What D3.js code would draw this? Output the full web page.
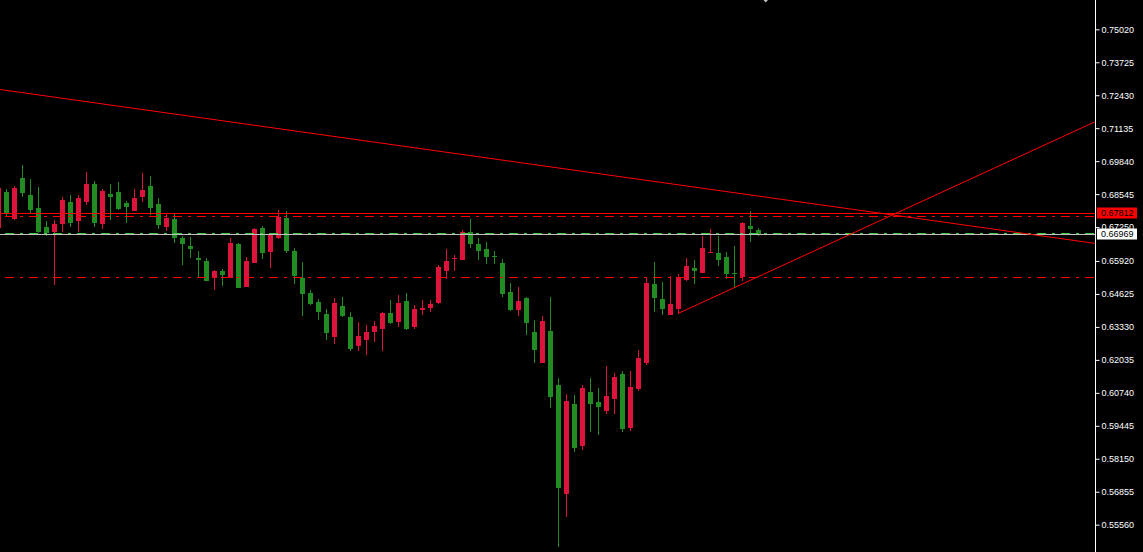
<!DOCTYPE html>
<html>
<head>
<meta charset="utf-8">
<script src="https://cdn.jsdelivr.net/npm/d3@7/dist/d3.min.js"></script>
<style>
html,body{margin:0;padding:0;background:#000;overflow:hidden;}
svg{display:block;}
</style>
</head>
<body>
<svg id="chart" width="1143" height="552"></svg>
<script>
// ---- data (bar index -1 .. 94) ----
const bars = d3.range(-1, 95);
const open = [0.67215,0.68629,0.67568,0.69179,0.68511,0.68000,0.67254,0.67058,0.67372,0.68236,0.67490,
0.68236,0.68943,0.67372,0.68550,0.68629,0.68197,0.67883,0.68432,0.68865,0.68158,
0.67254,0.67568,0.66822,0.66508,0.66036,0.65918,0.65251,0.65526,0.65251,0.66586,
0.64897,0.65840,0.67215,0.66272,0.66822,0.67608,0.66311,0.65251,0.64662,0.64308,
0.63836,0.62933,0.64151,0.63719,0.62580,0.62815,0.63129,0.63247,0.63876,0.63522,
0.64347,0.63326,0.63994,0.64072,0.64269,0.65526,0.65997,0.65958,0.67058,0.66586,
0.66390,0.66115,0.65840,0.64701,0.63994,0.64465,0.63129,0.61912,0.63169,0.61048,
0.56766,0.60301,0.58651,0.60772,0.60380,0.60026,0.60498,0.61480,0.59358,0.60890,
0.61912,0.65015,0.64426,0.63797,0.64033,0.65172,0.65644,0.65447,0.66233,0.66233,
0.66076,0.65447,0.65290,0.67293,0.67136];
const high = [0.68904,0.68747,0.68865,0.69690,0.69140,0.68825,0.67490,0.67529,0.68432,0.68511,0.68511,
0.69415,0.69061,0.68747,0.68943,0.69022,0.68275,0.68747,0.69375,0.69257,0.68393,
0.67804,0.67804,0.66901,0.66861,0.66311,0.66036,0.65565,0.65604,0.66822,0.66626,
0.66076,0.67215,0.67293,0.67018,0.67922,0.67883,0.66429,0.65879,0.64779,0.64426,
0.64033,0.64465,0.64504,0.63915,0.63522,0.63404,0.63562,0.63915,0.64386,0.64583,
0.64662,0.64190,0.64386,0.64386,0.65761,0.66390,0.66154,0.67136,0.67568,0.66822,
0.66665,0.66311,0.65997,0.65051,0.64897,0.64504,0.63601,0.63758,0.64504,0.61322,
0.60694,0.60655,0.61048,0.61322,0.60930,0.61794,0.61519,0.61597,0.61597,0.62422,
0.65290,0.65879,0.65094,0.65329,0.65408,0.66036,0.65958,0.66901,0.67176,0.66901,
0.66272,0.66508,0.67450,0.67883,0.67215];
const low = [0.67136,0.67659,0.67529,0.68444,0.67792,0.67030,0.66901,0.64976,0.67058,0.67254,0.67058,
0.68118,0.67254,0.67176,0.67529,0.67922,0.67411,0.67883,0.68236,0.67725,0.67176,
0.67097,0.66626,0.65761,0.66036,0.65251,0.65133,0.64779,0.64936,0.65251,0.64858,
0.64897,0.65840,0.65997,0.65644,0.66783,0.66233,0.65015,0.63758,0.64190,0.63601,
0.62815,0.62658,0.63719,0.62383,0.62383,0.62226,0.62737,0.62383,0.63444,0.63326,
0.63208,0.63247,0.63797,0.63915,0.64229,0.65211,0.65526,0.65958,0.66429,0.65958,
0.65801,0.65801,0.64504,0.63954,0.63758,0.63012,0.61912,0.61912,0.60144,0.54684,
0.55862,0.58416,0.58494,0.59201,0.59083,0.59908,0.59908,0.59201,0.59241,0.60812,
0.61833,0.63915,0.63797,0.63797,0.63836,0.65133,0.65015,0.65447,0.66233,0.65722,
0.65211,0.64858,0.65133,0.66665,0.66901];
const close = [0.68786,0.67792,0.68798,0.68601,0.67922,0.67058,0.67018,0.67372,0.68315,0.67411,0.68393,
0.68943,0.67411,0.68668,0.68432,0.67961,0.68040,0.68393,0.68708,0.68000,0.67333,
0.67608,0.66822,0.66586,0.66390,0.65958,0.65133,0.65526,0.65369,0.66626,0.64858,
0.65918,0.67176,0.66233,0.66979,0.67647,0.66311,0.65329,0.64622,0.64229,0.63915,
0.63090,0.64269,0.63758,0.62462,0.62972,0.63129,0.63365,0.63876,0.63483,0.64269,
0.63247,0.64033,0.64072,0.64229,0.65683,0.65918,0.66036,0.67058,0.66586,0.66311,
0.66076,0.66076,0.64622,0.63994,0.64347,0.63483,0.62422,0.63562,0.60576,0.57001,
0.60419,0.58573,0.60930,0.60301,0.60183,0.60615,0.61362,0.59319,0.60969,0.62108,
0.65051,0.64465,0.64033,0.64229,0.65290,0.65722,0.65526,0.66429,0.66272,0.65958,
0.65408,0.65408,0.67411,0.67176,0.66969];

const tickValues = [0.75020,0.73725,0.72430,0.71135,0.69840,0.68545,0.67250,0.65920,
  0.64625,0.63330,0.62035,0.60740,0.59445,0.58150,0.56855,0.55560];

const levelSolid = [0.67812];
const levelDashDot = [0.67674, 0.65278];
const bidPrice = 0.66969;
const askPrice = 0.67006;
const trendDown = [[-1, 0.72663], [94, 0.68468]];
const trendUp = [[84, 0.63864], [94, 0.65309]];
const priceBoxes = [{v: 0.67812, bg: "#ff0000"}, {v: 0.66969, bg: "#ffffff"}];

// ---- layout ----
const W = 1143, H = 552, plotRight = 1095;
const svg = d3.select("#chart");
svg.append("rect").attr("width", W).attr("height", H).attr("fill", "#000");

const x = d3.scaleLinear().domain([0, 94]).range([6.5, 758.5]);
const y = d3.scaleLinear().domain([0.55560, 0.75020]).range([524.7, 29.3]);

svg.append("defs").append("clipPath").attr("id", "plot")
  .append("rect").attr("x", 0).attr("y", 0).attr("width", plotRight).attr("height", H);

const plot = svg.append("g").attr("clip-path", "url(#plot)");

const UP = "#dc143c", DOWN = "#228b22";
const data = bars.map((b, i) => ({b, o: open[i], h: high[i], l: low[i], c: close[i]}));

const cg = plot.append("g");
data.forEach(d => {
  const col = d.c >= d.o ? UP : DOWN;
  const cx = x(d.b);
  const yh = Math.round(y(d.h)), yl = Math.round(y(d.l));
  const yt = Math.round(y(Math.max(d.o, d.c))), yb = Math.round(y(Math.min(d.o, d.c)));
  cg.append("rect").attr("x", cx - 0.5).attr("y", yh).attr("width", 1).attr("height", Math.max(1, yl - yh)).attr("fill", col);
  cg.append("rect").attr("x", cx - 2.5).attr("y", yt).attr("width", 5).attr("height", Math.max(1, yb - yt)).attr("fill", col);
});

// horizontal levels
const lg = plot.append("g");
levelDashDot.forEach(v => {
  const yy = Math.round(y(v)) + 0.5;
  lg.append("line").attr("x1", 5).attr("x2", plotRight).attr("y1", yy).attr("y2", yy)
    .attr("stroke", "#ff0000").attr("stroke-width", 1).attr("stroke-dasharray", "9,6,3,6");
});
levelSolid.forEach(v => {
  const yy = Math.round(y(v)) + 0.5;
  lg.append("line").attr("x1", 0).attr("x2", plotRight).attr("y1", yy).attr("y2", yy)
    .attr("stroke", "#ff0000").attr("stroke-width", 1);
});
{
  const ya = Math.round(y(askPrice)) + 0.5;
  lg.append("line").attr("x1", 5).attr("x2", plotRight).attr("y1", ya).attr("y2", ya)
    .attr("stroke", "#3cc83c").attr("stroke-width", 1).attr("stroke-dasharray", "9,6,3,6");
  const yb = Math.round(y(bidPrice)) + 0.5;
  lg.append("line").attr("x1", 0).attr("x2", plotRight).attr("y1", yb).attr("y2", yb)
    .attr("stroke", "#c0c0c0").attr("stroke-width", 1);
}

// trend lines (rays to the right)
function ray(pts) {
  const x1 = x(pts[0][0]), y1 = y(pts[0][1]), x2 = x(pts[1][0]), y2 = y(pts[1][1]);
  const t = (plotRight - x1) / (x2 - x1);
  plot.append("line").attr("x1", x1).attr("y1", y1)
    .attr("x2", plotRight).attr("y2", y1 + t * (y2 - y1))
    .attr("stroke", "#ff0000").attr("stroke-width", 1);
}
ray(trendDown);
ray(trendUp);

// shift marker
svg.append("path").attr("d", "M763.5,0 L768,0 L765.7,2.5 Z").attr("fill", "#c0c0c0");

// price axis
svg.append("line").attr("x1", plotRight + 0.5).attr("x2", plotRight + 0.5).attr("y1", 0).attr("y2", H)
  .attr("stroke", "#ffffff").attr("stroke-width", 1);
const axis = d3.axisRight(y).tickValues(tickValues).tickFormat(d3.format(".5f"))
  .tickSize(4).tickSizeOuter(0).tickPadding(2);
const ag = svg.append("g").attr("transform", `translate(${plotRight + 0.5},0)`).call(axis);
ag.select(".domain").remove();
ag.selectAll(".tick line").attr("stroke", "#ffffff");
ag.selectAll(".tick text").attr("fill", "#ffffff")
  .style("font-family", "'Liberation Sans', Arial, sans-serif").style("font-size", "9px");

// price boxes
priceBoxes.forEach(p => {
  const yy = Math.round(y(p.v));
  const g = svg.append("g");
  g.append("rect").attr("x", 1097).attr("y", yy - 5.5).attr("width", 40).attr("height", 11).attr("fill", p.bg);
  g.append("text").attr("x", 1101).attr("y", yy).attr("dy", "0.32em")
    .attr("fill", "#000").style("font-family", "'Liberation Sans', Arial, sans-serif").style("font-size", "9px")
    .text(d3.format(".5f")(p.v));
});
</script>
</body>
</html>
